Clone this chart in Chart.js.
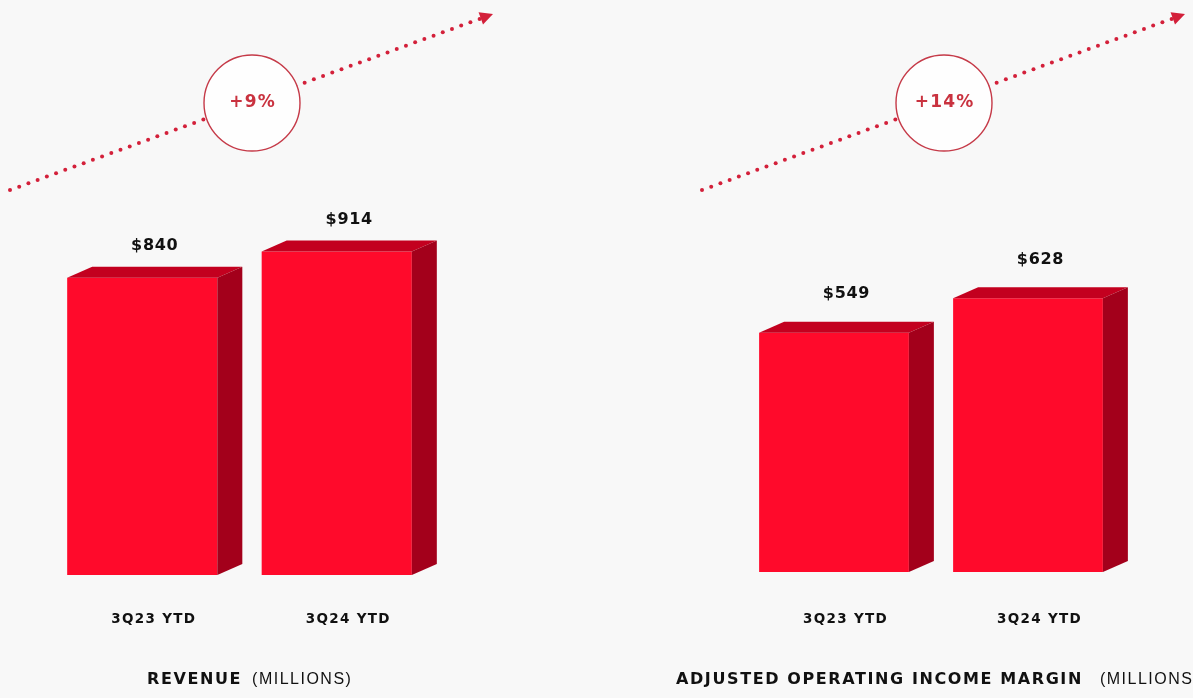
<!DOCTYPE html>
<html>
<head>
<meta charset="utf-8">
<title>Revenue and Adjusted Operating Income</title>
<script src="https://cdn.jsdelivr.net/npm/chart.js"></script>
<style>
  html, body {
    margin: 0;
    padding: 0;
    width: 1193px;
    height: 698px;
    overflow: hidden;
    background: #f8f8f8;
    position: relative;
  }
  canvas { position: absolute; top: 0; }
  #revenueChart { left: 0; }
  #incomeChart { left: 692px; }
  .title {
    position: absolute;
    top: 669px;
    line-height: 20px;
    font-size: 16px;
    color: #111;
    white-space: nowrap;
  }
  .title b { font-family: "DejaVu Sans", sans-serif; letter-spacing: 1.6px; }
  .title span { font-family: "Liberation Sans", Arial, sans-serif; letter-spacing: 1.5px; }
</style>
</head>
<body>
<canvas id="revenueChart" width="500" height="698"></canvas>
<canvas id="incomeChart" width="501" height="698"></canvas>
<div class="title" style="left:147px"><b>REVENUE</b><span style="margin-left:10px">(MILLIONS)</span></div>
<div class="title" style="left:676px"><b>ADJUSTED OPERATING INCOME MARGIN</b><span style="margin-left:17px">(MILLIONS)</span></div>

<script>
// Periods and values (USD millions)
const periods = ['3Q23 YTD', '3Q24 YTD'];
const revenue = [840, 914];
const adjOperatingIncome = [549, 628];

// Bar face colours
const FRONT = '#ff0a2b';
const TOP = '#c3001f';
const SIDE = '#a3001b';
const DEPTH_X = 25;
const DEPTH_Y = 11;
const HEAVY = '"DejaVu Sans", sans-serif';

// Year-over-year change, rounded to whole percent
function growthText(values) {
  const pct = Math.round((values[1] - values[0]) / values[0] * 100);
  return '+' + pct + '%';
}

// Draws top and side faces for each bar plus the value label above it
const bar3d = {
  id: 'bar3d',
  beforeDraw(chart) {
    // spacing for the category tick labels
    chart.ctx.letterSpacing = '1.3px';
  },
  afterDatasetsDraw(chart, args, opts) {
    const ctx = chart.ctx;
    const meta = chart.getDatasetMeta(0);
    const values = chart.data.datasets[0].data;
    ctx.save();
    meta.data.forEach((bar, i) => {
      const p = bar.getProps(['x', 'y', 'base', 'width'], true);
      const left = p.x - p.width / 2;
      const right = p.x + p.width / 2;

      ctx.fillStyle = TOP;
      ctx.beginPath();
      ctx.moveTo(left, p.y);
      ctx.lineTo(left + DEPTH_X, p.y - DEPTH_Y);
      ctx.lineTo(right + DEPTH_X, p.y - DEPTH_Y);
      ctx.lineTo(right, p.y);
      ctx.closePath();
      ctx.fill();

      ctx.fillStyle = SIDE;
      ctx.beginPath();
      ctx.moveTo(right, p.y);
      ctx.lineTo(right + DEPTH_X, p.y - DEPTH_Y);
      ctx.lineTo(right + DEPTH_X, p.base - DEPTH_Y);
      ctx.lineTo(right, p.base);
      ctx.closePath();
      ctx.fill();

      ctx.fillStyle = '#111';
      ctx.font = 'bold 16px ' + HEAVY;
      ctx.letterSpacing = '0.7px';
      ctx.textAlign = 'center';
      ctx.textBaseline = 'middle';
      ctx.fillText('$' + values[i], p.x + DEPTH_X / 2, p.y - opts.labelGap);
    });
    ctx.restore();
  },
  afterDraw(chart) {
    chart.ctx.letterSpacing = '0px';
  }
};

// Dotted trend arrow with a circled growth figure
const growth = {
  id: 'growth',
  beforeDatasetsDraw(chart, args, opts) {
    const ctx = chart.ctx;
    const [x0, y0] = opts.from;
    const [x1, y1] = opts.to;
    const len = Math.hypot(x1 - x0, y1 - y0);
    const ux = (x1 - x0) / len;
    const uy = (y1 - y0) / len;
    const head = 13;

    ctx.save();
    ctx.fillStyle = '#d3203a';
    for (let d = 0; d < len - head; d += 9.8) {
      ctx.beginPath();
      ctx.arc(x0 + ux * d, y0 + uy * d, 2, 0, Math.PI * 2);
      ctx.fill();
    }
    // arrowhead
    const bx = x1 - ux * head;
    const by = y1 - uy * head;
    ctx.beginPath();
    ctx.moveTo(x1, y1);
    ctx.lineTo(bx - uy * 6.5, by + ux * 6.5);
    ctx.lineTo(bx + uy * 6.5, by - ux * 6.5);
    ctx.closePath();
    ctx.fill();

    // badge
    const [cx, cy] = opts.center;
    ctx.beginPath();
    ctx.arc(cx, cy, 48, 0, Math.PI * 2);
    ctx.fillStyle = '#fefefe';
    ctx.fill();
    ctx.lineWidth = 1.4;
    ctx.strokeStyle = '#c53a48';
    ctx.stroke();

    ctx.fillStyle = '#c9323f';
    ctx.font = 'bold 17px ' + HEAVY;
    ctx.letterSpacing = '1.2px';
    ctx.textAlign = 'center';
    ctx.textBaseline = 'middle';
    ctx.fillText(opts.text, cx + 0.6, cy);
    ctx.restore();
  }
};

function makeChart(id, values, cfg) {
  return new Chart(document.getElementById(id), {
    type: 'bar',
    data: {
      labels: periods,
      datasets: [{
        data: values,
        backgroundColor: FRONT,
        borderWidth: 0,
        categoryPercentage: 1,
        barPercentage: 0.772
      }]
    },
    options: {
      responsive: false,
      animation: false,
      events: [],
      layout: {
        padding: { left: 45, right: cfg.padRight, top: cfg.padTop, bottom: cfg.padBottom }
      },
      plugins: {
        legend: { display: false },
        tooltip: { enabled: false },
        bar3d: { labelGap: cfg.labelGap },
        growth: {
          text: growthText(values),
          from: [10, 190],
          to: [493, 14],
          center: [252, 103]
        }
      },
      scales: {
        x: {
          grid: { display: false, drawTicks: false },
          border: { display: false },
          ticks: {
            color: '#111',
            font: { family: HEAVY, weight: 'bold', size: 13.5 },
            padding: cfg.tickPad,
            labelOffset: 11.5,
            maxRotation: 0,
            autoSkip: false
          },
          afterFit: function(scale) {
            scale.height = 60;
          }
        },
        y: {
          display: false,
          min: 0,
          max: 1000
        }
      }
    },
    plugins: [bar3d, growth]
  });
}

makeChart('revenueChart', revenue, { padTop: 221, padBottom: 63, padRight: 66, tickPad: 36, labelGap: 32 });
makeChart('incomeChart', adjOperatingIncome, { padTop: 136, padBottom: 66, padRight: 68, tickPad: 39, labelGap: 38.5 });
</script>
</body>
</html>
